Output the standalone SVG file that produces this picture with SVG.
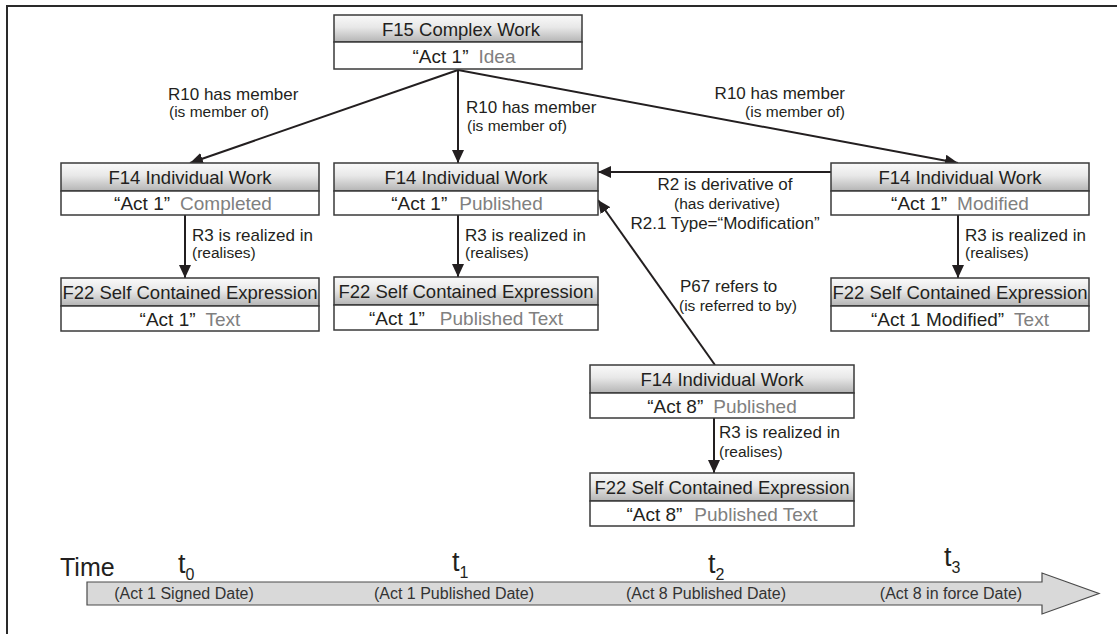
<svg xmlns="http://www.w3.org/2000/svg" width="1117" height="634" viewBox="0 0 1117 634">
<defs>
<linearGradient id="hg" x1="0" y1="0" x2="0" y2="1">
<stop offset="0" stop-color="#fafafa"/>
<stop offset="0.45" stop-color="#e8e8e8"/>
<stop offset="1" stop-color="#b4b4b4"/>
</linearGradient>
<marker id="ah" markerUnits="userSpaceOnUse" markerWidth="14" markerHeight="12" viewBox="0 0 14 12" refX="13" refY="6" orient="auto">
<path d="M0,0 L13,6 L0,12 Z" fill="#231f20"/>
</marker>
<style>
.hd{fill:url(#hg);stroke:#3a3a3a;stroke-width:1.5}
.rw{fill:#fff;stroke:#3a3a3a;stroke-width:1.5}
text{font-family:"Liberation Sans",Arial,sans-serif;fill:#231f20}
.ht{font-size:18.5px;text-anchor:middle}
.rt{font-size:19px;text-anchor:middle}
.st{fill:#808080}
.lb{font-size:17px}
.ls{font-size:15.5px}
.e{stroke:#231f20;stroke-width:2;fill:none;marker-end:url(#ah)}
.tl{font-size:16px;text-anchor:middle;fill:#333}
.tt{font-size:27px}
.ts{font-size:16px}
</style>
</defs>
<path d="M7,634 V6 H1117" fill="none" stroke="#2a2a2a" stroke-width="2"/>

<g id="connectors">
<line class="e" x1="458" y1="70" x2="190" y2="163"/>
<line class="e" x1="458" y1="70" x2="458" y2="163"/>
<line class="e" x1="458" y1="70" x2="958" y2="163"/>
<line class="e" x1="185" y1="214" x2="185" y2="278"/>
<line class="e" x1="458" y1="214" x2="458" y2="277"/>
<line class="e" x1="958" y1="214" x2="958" y2="278"/>
<line class="e" x1="714" y1="418" x2="714" y2="473"/>
<line class="e" x1="831" y1="172" x2="598" y2="172"/>
<line class="e" x1="715" y1="365" x2="598" y2="200"/>
<text class="lb" x="168" y="100">R10 has member</text>
<text class="ls" x="169" y="117">(is member of)</text>
<text class="lb" x="466" y="113">R10 has member</text>
<text class="ls" x="467" y="131">(is member of)</text>
<text class="lb" x="845" y="99" text-anchor="end">R10 has member</text>
<text class="ls" x="845" y="117" text-anchor="end">(is member of)</text>
<text class="lb" x="192" y="241">R3 is realized in</text>
<text class="ls" x="192" y="258">(realises)</text>
<text class="lb" x="465" y="241">R3 is realized in</text>
<text class="ls" x="465" y="258">(realises)</text>
<text class="lb" x="965" y="241">R3 is realized in</text>
<text class="ls" x="965" y="258">(realises)</text>
<text class="lb" x="719" y="438">R3 is realized in</text>
<text class="ls" x="719" y="457">(realises)</text>
<text class="lb" x="725" y="190" text-anchor="middle">R2 is derivative of</text>
<text class="ls" x="727" y="209" text-anchor="middle">(has derivative)</text>
<text class="lb" x="725" y="229" text-anchor="middle">R2.1 Type=“Modification”</text>
<text class="lb" x="680" y="292">P67 refers to</text>
<text class="ls" x="679" y="311">(is referred to by)</text>
</g>

<g id="f15">
<rect class="hd" x="334" y="15" width="248" height="27"/>
<rect class="rw" x="334" y="42" width="248" height="27"/>
<text class="ht" x="461" y="36">F15 Complex Work</text>
<text class="rt" x="464" y="63">“Act 1”<tspan class="st" dx="10">Idea</tspan></text>
</g>

<g id="f14_completed">
<rect class="hd" x="61" y="163" width="258" height="28"/>
<rect class="rw" x="61" y="191" width="258" height="24"/>
<text class="ht" x="190" y="184">F14 Individual Work</text>
<text class="rt" x="193" y="210">“Act 1”<tspan class="st" dx="10">Completed</tspan></text>
</g>

<g id="f22_text">
<rect class="hd" x="61" y="278" width="258" height="28"/>
<rect class="rw" x="61" y="306" width="258" height="25"/>
<text class="ht" x="190" y="299">F22 Self Contained Expression</text>
<text class="rt" x="190" y="326">“Act 1”<tspan class="st" dx="10">Text</tspan></text>
</g>

<g id="f14_published">
<rect class="hd" x="334" y="163" width="264" height="28"/>
<rect class="rw" x="334" y="191" width="264" height="24"/>
<text class="ht" x="466" y="184">F14 Individual Work</text>
<text class="rt" x="467" y="210">“Act 1”<tspan class="st" dx="12">Published</tspan></text>
</g>

<g id="f22_published_text">
<rect class="hd" x="334" y="277" width="264" height="28"/>
<rect class="rw" x="334" y="305" width="264" height="25"/>
<text class="ht" x="466" y="298">F22 Self Contained Expression</text>
<text class="rt" x="466" y="325">“Act 1”<tspan class="st" dx="15">Published Text</tspan></text>
</g>

<g id="f14_modified">
<rect class="hd" x="831" y="163" width="258" height="28"/>
<rect class="rw" x="831" y="191" width="258" height="24"/>
<text class="ht" x="960" y="184">F14 Individual Work</text>
<text class="rt" x="960" y="210">“Act 1”<tspan class="st" dx="10">Modified</tspan></text>
</g>

<g id="f22_modified_text">
<rect class="hd" x="831" y="278" width="258" height="28"/>
<rect class="rw" x="831" y="306" width="258" height="25"/>
<text class="ht" x="960" y="299">F22 Self Contained Expression</text>
<text class="rt" x="960" y="326">“Act 1 Modified”<tspan class="st" dx="10">Text</tspan></text>
</g>

<g id="f14_act8">
<rect class="hd" x="590" y="365" width="264" height="28"/>
<rect class="rw" x="590" y="393" width="264" height="25"/>
<text class="ht" x="722" y="386">F14 Individual Work</text>
<text class="rt" x="722" y="413">“Act 8”<tspan class="st" dx="10">Published</tspan></text>
</g>

<g id="f22_act8">
<rect class="hd" x="590" y="473" width="264" height="28"/>
<rect class="rw" x="590" y="501" width="264" height="25"/>
<text class="ht" x="722" y="494">F22 Self Contained Expression</text>
<text class="rt" x="722" y="521">“Act 8”<tspan class="st" dx="12">Published Text</tspan></text>
</g>

<g id="timeline">
<polygon points="87,582 1042,582 1042,573 1099,593.5 1042,614 1042,605 87,605" fill="#d9d9d9" stroke="#4a4a4a" stroke-width="1.2"/>
<text x="60" y="576" style="font-size:25px">Time</text>
<text class="tt" x="178" y="573">t<tspan class="ts" dy="7">0</tspan></text>
<text class="tt" x="452" y="571">t<tspan class="ts" dy="7">1</tspan></text>
<text class="tt" x="708" y="573">t<tspan class="ts" dy="7">2</tspan></text>
<text class="tt" x="944" y="566">t<tspan class="ts" dy="7">3</tspan></text>
<text class="tl" x="184" y="599">(Act 1 Signed Date)</text>
<text class="tl" x="454" y="599">(Act 1 Published Date)</text>
<text class="tl" x="706" y="599">(Act 8 Published Date)</text>
<text class="tl" x="951" y="599">(Act 8 in force Date)</text>
</g>
</svg>
